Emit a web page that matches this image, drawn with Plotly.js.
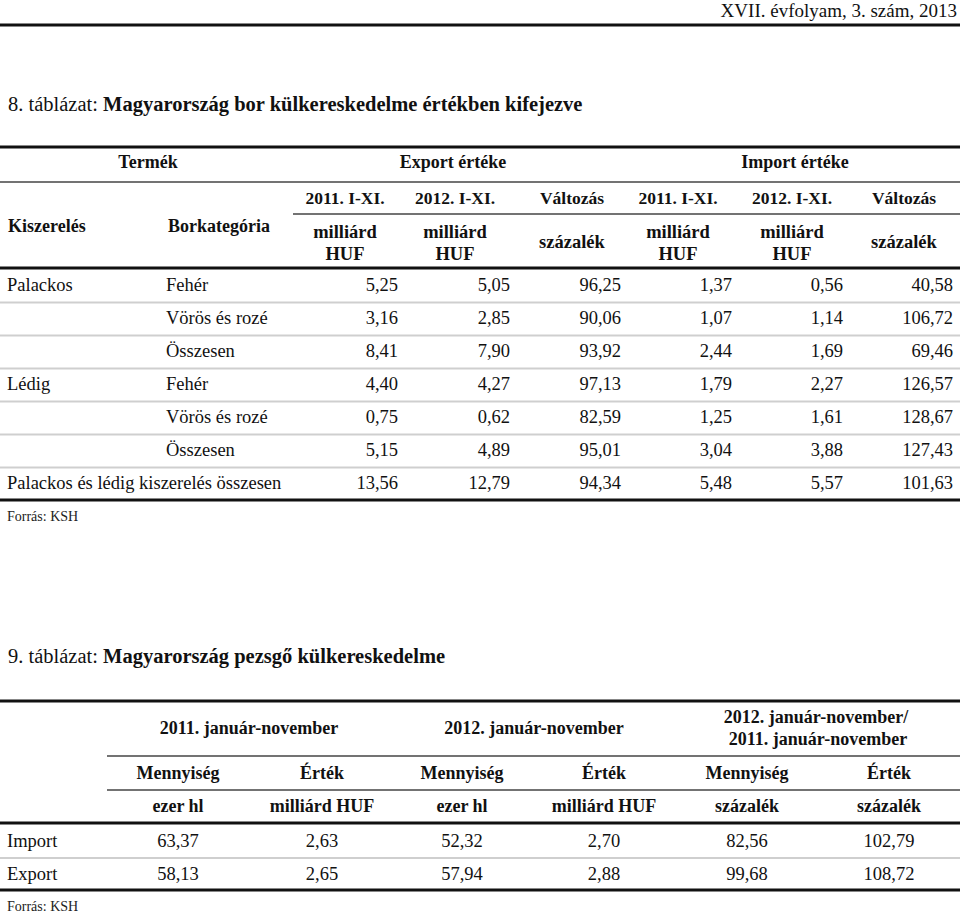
<!DOCTYPE html>
<html>
<head>
<meta charset="utf-8">
<script src="https://cdn.plot.ly/plotly-3.0.1.min.js"></script>
<style>html,body{margin:0;padding:0;background:#fff;}#chart{width:960px;height:913px;}</style>
</head>
<body>
<div id="chart"></div>
<script>
// ---------- DATA: table 8 ----------
const t8Packaging = ['Palackos', '', '', 'Lédig', '', '', 'Palackos és lédig kiszerelés összesen'];
const t8Category = ['Fehér', 'Vörös és rozé', 'Összesen', 'Fehér', 'Vörös és rozé', 'Összesen', ''];
const export2011 = [5.25, 3.16, 8.41, 4.40, 0.75, 5.15, 13.56];
const export2012 = [5.05, 2.85, 7.90, 4.27, 0.62, 4.89, 12.79];
const exportChange = [96.25, 90.06, 93.92, 97.13, 82.59, 95.01, 94.34];
const import2011 = [1.37, 1.07, 2.44, 1.79, 1.25, 3.04, 5.48];
const import2012 = [0.56, 1.14, 1.69, 2.27, 1.61, 3.88, 5.57];
const importChange = [40.58, 106.72, 69.46, 126.57, 128.67, 127.43, 101.63];
const t8Groups = ['Termék', 'Export értéke', 'Import értéke'];
const t8Periods = ['2011. I-XI.', '2012. I-XI.', 'Változás', '2011. I-XI.', '2012. I-XI.', 'Változás'];
const t8Units = ['milliárd HUF', 'milliárd HUF', 'százalék', 'milliárd HUF', 'milliárd HUF', 'százalék'];

// ---------- DATA: table 9 ----------
const t9Rows = ['Import', 'Export'];
const qty2011 = [63.37, 58.13];
const val2011 = [2.63, 2.65];
const qty2012 = [52.32, 57.94];
const val2012 = [2.70, 2.88];
const qtyChange = [82.56, 99.68];
const valChange = [102.79, 108.72];
const t9Periods = ['2011. január-november', '2012. január-november', '2012. január-november/ 2011. január-november'];
const t9Measures = ['Mennyiség', 'Érték', 'Mennyiség', 'Érték', 'Mennyiség', 'Érték'];
const t9Units = ['ezer hl', 'milliárd HUF', 'ezer hl', 'milliárd HUF', 'százalék', 'százalék'];

const pageHeader = 'XVII. évfolyam, 3. szám, 2013';
const title8 = ['8. táblázat: ', 'Magyarország bor külkereskedelme értékben kifejezve'];
const title9 = ['9. táblázat: ', 'Magyarország pezsgő külkereskedelme'];
const source = 'Forrás: KSH';

// ---------- helpers ----------
const fmt = v => v.toFixed(2).replace('.', ',');
const SERIF = 'Liberation Serif';
const INK = '#111';
const traces = [];
function txt(xs, ys, texts, pos, size, bold, color) {
  traces.push({
    type: 'scatter', mode: 'text', x: xs, y: ys, text: texts,
    textposition: pos, hoverinfo: 'skip', showlegend: false, cliponaxis: false,
    textfont: {family: SERIF, size: size, color: color || INK, weight: bold ? 'bold' : 'normal'}
  });
}
const shapes = [];
function hline(y, x0, x1, w, c) {
  shapes.push({type: 'line', xref: 'x', yref: 'y', x0: x0, x1: x1, y0: y, y1: y, line: {width: w, color: c}});
}

// ---------- page header ----------
txt([957], [12], [pageHeader], 'middle left', 19, false);
hline(25, 0, 960, 3, '#111');

// ---------- table 8 ----------
txt([8], [106], [title8[0] + '<b>' + title8[1] + '</b>'], 'middle right', 20.5, false);
hline(147, 0, 960, 3, '#111');
txt([148, 453, 795], [163, 163, 163], t8Groups, 'middle center', 18, true);
hline(182, 0, 960, 1.5, '#444');
const t8ColCenter = [345, 455, 572, 678, 792, 904];
txt(t8ColCenter, t8ColCenter.map(() => 200), t8Periods, 'middle center', 17.5, true);
hline(214, 293, 960, 1.5, '#444');
txt([8], [227], ['Kiszerelés'], 'middle right', 18, true);
txt([219], [227], ['Borkategória'], 'middle center', 18, true);
const uX = [], uY = [], uT = [];
t8Units.forEach((u, i) => {
  const parts = u.split(' ');
  if (parts.length === 2) {
    uX.push(t8ColCenter[i], t8ColCenter[i]); uY.push(233, 255); uT.push(parts[0], parts[1]);
  } else {
    uX.push(t8ColCenter[i]); uY.push(243); uT.push(u);
  }
});
txt(uX, uY, uT, 'middle center', 18.5, true);
hline(268, 0, 960, 3, '#111');

const rowY8 = t8Packaging.map((_, i) => 286 + i * 33);
txt(rowY8.map(() => 7), rowY8, t8Packaging, 'middle right', 18.5, false);
txt(rowY8.map(() => 166), rowY8, t8Category, 'middle right', 18.5, false);
const numCols8 = [export2011, export2012, exportChange, import2011, import2012, importChange];
const rightX8 = [398, 510, 621, 732, 843, 953];
numCols8.forEach((col, j) => {
  txt(col.map(() => rightX8[j]), rowY8, col.map(fmt), 'middle left', 18.5, false);
});
for (let i = 0; i < rowY8.length - 1; i++) hline(rowY8[i] + 16.5, 0, 960, 2, '#cfcfcf');
hline(500, 0, 960, 3, '#111');
txt([7], [517], [source], 'middle right', 14, false, '#222');

// ---------- table 9 ----------
txt([8], [658], [title9[0] + '<b>' + title9[1] + '</b>'], 'middle right', 20.5, false);
hline(701, 0, 960, 3, '#111');
const t9ColCenter = [178, 322, 462, 604, 747, 889];
txt([249, 534], [729, 729], [t9Periods[0], t9Periods[1]], 'middle center', 18, true);
const p3 = t9Periods[2].split('/ ');
txt([816, 818], [718, 740], [p3[0] + '/', p3[1]], 'middle center', 18, true);
hline(756, 107, 960, 1.5, '#444');
txt(t9ColCenter, t9ColCenter.map(() => 774), t9Measures, 'middle center', 18, true);
hline(790, 107, 960, 1.5, '#444');
txt(t9ColCenter, t9ColCenter.map(() => 807), t9Units, 'middle center', 18, true);
hline(823, 0, 960, 3, '#111');
const rowY9 = [842, 875];
txt([7, 7], rowY9, t9Rows, 'middle right', 18.5, false);
const numCols9 = [qty2011, val2011, qty2012, val2012, qtyChange, valChange];
numCols9.forEach((col, j) => {
  txt(col.map(() => t9ColCenter[j]), rowY9, col.map(fmt), 'middle center', 18.5, false);
});
hline(858, 0, 960, 2, '#cfcfcf');
hline(890, 0, 960, 3, '#111');
txt([7], [907], [source], 'middle right', 14, false, '#222');

const layout = {
  width: 960, height: 913,
  margin: {l: 0, r: 0, t: 0, b: 0, pad: 0},
  paper_bgcolor: '#fff', plot_bgcolor: '#fff',
  showlegend: false,
  xaxis: {range: [0, 960], visible: false, fixedrange: true},
  yaxis: {range: [913, 0], visible: false, fixedrange: true},
  shapes: shapes
};
Plotly.newPlot('chart', traces, layout, {displayModeBar: false, staticPlot: true});
</script>
</body>
</html>
